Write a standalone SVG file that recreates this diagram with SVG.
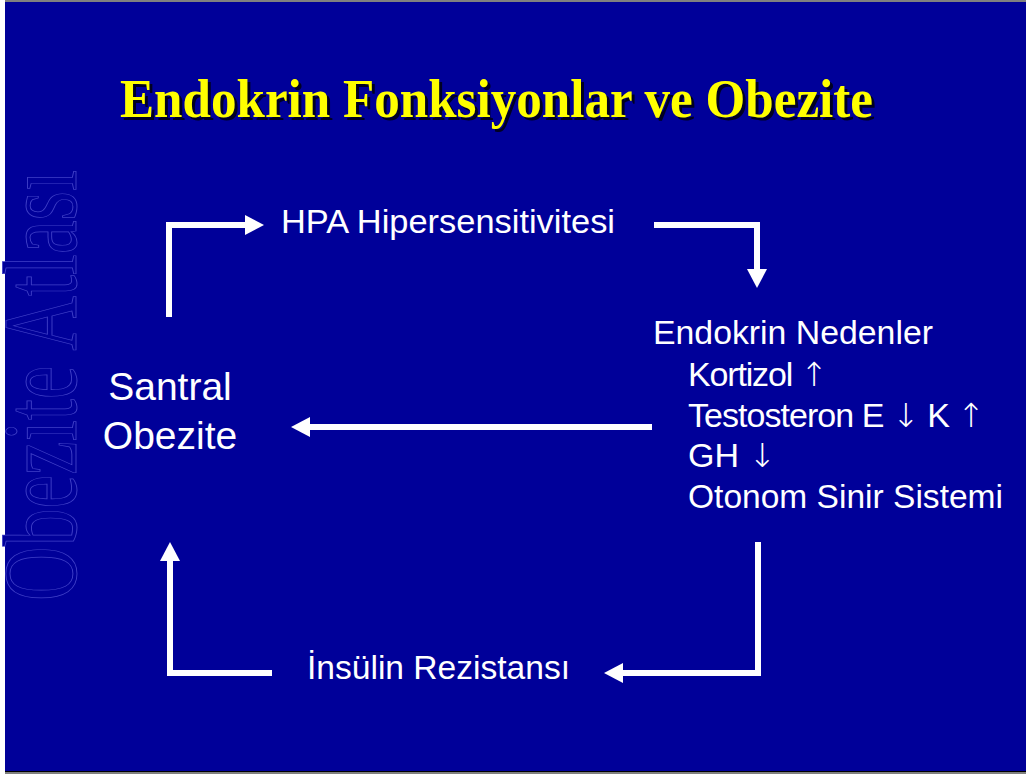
<svg xmlns="http://www.w3.org/2000/svg" width="1026" height="774" viewBox="0 0 1026 774">
<defs>
<style>
.t{font-family:"Liberation Sans",Arial,sans-serif;font-size:34px;fill:#ffffff}
.big{font-size:39px}
.ar{font-family:"DejaVu Sans",sans-serif;font-size:33px;font-weight:200}
.title{font-family:"Liberation Serif","Times New Roman",serif;font-weight:bold;font-size:54px}
.wm{font-family:"Liberation Serif","Times New Roman",serif;font-size:105px;fill:#000099;stroke:#4040c8;stroke-width:0.9}
.c{fill:none;stroke:#ffffff;stroke-width:6;stroke-linejoin:miter;stroke-linecap:butt}
</style>
<marker id="ah" viewBox="0 0 19 20" markerWidth="19" markerHeight="20" refX="0" refY="10" orient="auto" markerUnits="userSpaceOnUse">
<path d="M0,0 L19,10 L0,20 Z" fill="#ffffff"/>
</marker>
</defs>
<rect x="0" y="0" width="1026" height="774" fill="#ffffff"/>
<rect x="5" y="0" width="1021" height="2" fill="#808080"/>
<rect x="5" y="2" width="1021" height="769" fill="#000099"/>
<rect x="5" y="771" width="1021" height="1" fill="#000000"/>
<rect x="5" y="772" width="1021" height="2" fill="#808080"/>

<g id="watermark">
<text class="wm" transform="translate(76,601) rotate(-90)" textLength="431" lengthAdjust="spacingAndGlyphs">Obezite Atlası</text>
</g>

<g id="title">
<text class="title" x="123" y="120" fill="#000022" textLength="753" lengthAdjust="spacingAndGlyphs">Endokrin Fonksiyonlar ve Obezite</text>
<text class="title" x="120" y="117" fill="#ffff00" textLength="753" lengthAdjust="spacingAndGlyphs">Endokrin Fonksiyonlar ve Obezite</text>
</g>

<g id="connectors">
<path class="c" d="M169,317 V225 H245" marker-end="url(#ah)"/>
<path class="c" d="M654,225 H757 V269" marker-end="url(#ah)"/>
<path class="c" d="M652,427 H310" marker-end="url(#ah)"/>
<path class="c" d="M758,542 V673 H623" marker-end="url(#ah)"/>
<path class="c" d="M272,673 H170 V561" marker-end="url(#ah)"/>
</g>

<g id="node-hpa">
<text class="t" x="281" y="233" textLength="334" lengthAdjust="spacingAndGlyphs">HPA Hipersensitivitesi</text>
</g>

<g id="node-endokrin">
<text class="t" x="653" y="344" textLength="280" lengthAdjust="spacingAndGlyphs">Endokrin Nedenler</text>
<text class="t" x="688" y="386" textLength="140" lengthAdjust="spacing">Kortizol <tspan class="ar">↑</tspan></text>
<text class="t" x="688" y="427" textLength="297" lengthAdjust="spacing">Testosteron E <tspan class="ar">↓</tspan> K <tspan class="ar">↑</tspan></text>
<text class="t" x="688" y="467">GH <tspan class="ar">↓</tspan></text>
<text class="t" x="688" y="508" textLength="315" lengthAdjust="spacingAndGlyphs">Otonom Sinir Sistemi</text>
</g>

<g id="node-santral">
<text class="t big" x="170" y="400" text-anchor="middle">Santral</text>
<text class="t big" x="170" y="449" text-anchor="middle">Obezite</text>
</g>

<g id="node-insulin">
<text class="t" x="307" y="679" textLength="263" lengthAdjust="spacingAndGlyphs">İnsülin Rezistansı</text>
</g>
</svg>
